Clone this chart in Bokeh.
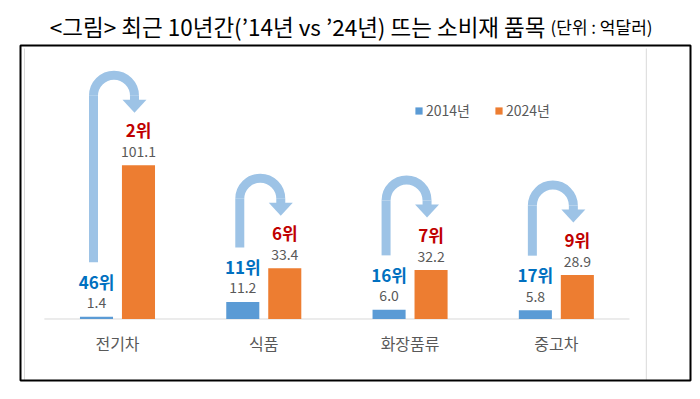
from bokeh.plotting import figure
from bokeh.models import ColumnDataSource, Label, Legend, LegendItem, BoxAnnotation
from bokeh.embed import file_html
from bokeh.resources import INLINE
from bokeh.core.properties import value
import numpy as np

# ---- data ----
categories = ["전기차", "식품", "화장품류", "중고차"]
values_2014 = [1.4, 11.2, 6.0, 5.8]
values_2024 = [101.1, 33.4, 32.2, 28.9]
rank_2014 = ["46위", "11위", "16위", "17위"]
rank_2024 = ["2위", "6위", "7위", "9위"]
years = ["2014년", "2024년"]
title_main = "<그림> 최근 10년간(’14년 vs ’24년) 뜨는 소비재 품목"
title_unit = "(단위 : 억달러)"

FONT = "Noto Sans CJK KR"
BLUE = "#5B9BD5"
ORANGE = "#ED7D31"
ARROW = "#9DC3E6"
GRAY = "#595959"

W, H = 698, 397
L, R, T, B = 20, 8, 45, 17          # box margins inside the canvas
BW, BH = W - L - R, H - T - B        # 670 x 335 box
bx0, bx1 = -0.663, 3.917
by0, by1 = -40.46, 179.9
px_x = BW / (bx1 - bx0)
px_y = BH / (by1 - by0)

p = figure(width=W, height=H,
           x_range=(bx0 - L / px_x, bx1 + R / px_x),
           y_range=(by0 - B / px_y, by1 + T / px_y),
           output_backend="svg", toolbar_location=None,
           x_axis_location=None, y_axis_location=None,
           min_border=0)
p.grid.visible = False
p.outline_line_color = None
p.background_fill_color = "white"
p.border_fill_color = "white"

# outer black box
p.add_layout(BoxAnnotation(left=bx0, right=bx1, bottom=by0, top=by1,
                           fill_alpha=0, line_color="black", line_alpha=1, line_width=2))

idx = np.arange(len(categories))
off = 0.1435
bw = 0.226

# faint chart-area borders
p.segment(x0=[bx0 + 4 / px_x, 3.615], y0=[by0, by0], x1=[bx0 + 4 / px_x, 3.615],
          y1=[by1 - 3 / px_y, by1 - 3 / px_y], line_color="#D9D9D9", line_width=1)

# baseline
p.segment(x0=[-0.5], y0=[0], x1=[3.5], y1=[0], line_color="#D9D9D9", line_width=1)

src = ColumnDataSource(dict(
    xb=idx - off, xo=idx + off, v14=values_2014, v24=values_2024,
    t14=[f"{v:.1f}" for v in values_2014], t24=[f"{v:.1f}" for v in values_2024],
    r14=rank_2014, r24=rank_2024, cat=categories, xc=idx,
))

r_14 = p.vbar(x="xb", top="v14", bottom=0, width=bw, source=src, fill_color=BLUE, line_color=None)
r_24 = p.vbar(x="xo", top="v24", bottom=0, width=bw, source=src, fill_color=ORANGE, line_color=None)

# arrows
xs_b = idx - off - 3 / px_x
xs_o = idx + off - 4 / px_x
tips = np.array(values_2024) + 52.5 / px_y
yc = tips + 17 / px_y
yh = tips + 13 / px_y
ys = np.array(values_2014) + 54.5 / px_y
rad = (xs_o - xs_b) / 2
xc = (xs_o + xs_b) / 2
hw = 12 / px_x

p.segment(x0=xs_b, y0=ys, x1=xs_b, y1=yc, line_color=ARROW, line_width=9)
p.arc(x=xc, y=yc, radius=rad, start_angle=0, end_angle=np.pi, line_color=ARROW, line_width=9)
p.segment(x0=xs_o, y0=yc, x1=xs_o, y1=yh - 1 / px_y, line_color=ARROW, line_width=9)
p.patches(xs=[[a - hw, a + hw, a] for a in xs_o],
          ys=[[h, h, t] for h, t in zip(yh, tips)],
          fill_color=ARROW, line_color=None)

# value labels
p.text(x="xb", y="v14", text="t14", source=src, text_align="center", text_baseline="middle",
       y_offset=-14, text_font=value(FONT), text_font_size="14px", text_color=GRAY)
p.text(x="xo", y="v24", text="t24", source=src, text_align="center", text_baseline="middle",
       y_offset=-14, text_font=value(FONT), text_font_size="14px", text_color=GRAY)
# rank labels
p.text(x="xb", y="v14", text="r14", source=src, text_align="center", text_baseline="middle",
       y_offset=-35.5, text_font=value(FONT), text_font_size="17px", text_font_style="bold",
       text_color="#0070C0")
p.text(x="xo", y="v24", text="r24", source=src, text_align="center", text_baseline="middle",
       y_offset=-35.5, text_font=value(FONT), text_font_size="17px", text_font_style="bold",
       text_color="#C00000")
# category labels
p.text(x="xc", y=-16.1, text="cat", source=src, text_align="center", text_baseline="middle",
       text_font=value(FONT), text_font_size="16px", text_color=GRAY)

# legend
legend = Legend(items=[LegendItem(label=years[0], renderers=[r_14]),
                       LegendItem(label=years[1], renderers=[r_24])],
                orientation="horizontal", location=(L + 394, B + 260),
                glyph_width=9, glyph_height=9, label_standoff=3, spacing=24,
                padding=0, margin=0, border_line_color=None, background_fill_alpha=0,
                label_text_font=FONT, label_text_font_size="14px", label_text_color=GRAY,
                label_height=16)
p.add_layout(legend)

# title
p.add_layout(Label(x=bx0 + 525 / px_x, y=by1 + 20 / px_y, text=title_main,
                   text_align="right", text_baseline="middle", text_font=FONT,
                   text_font_size="22.5px", text_color="black"))
p.add_layout(Label(x=bx0 + 530 / px_x, y=by1 + 19 / px_y, text=title_unit,
                   text_align="left", text_baseline="middle", text_font=FONT,
                   text_font_size="17px", text_color="black"))

open("out.html", "w").write(file_html(p, INLINE))
